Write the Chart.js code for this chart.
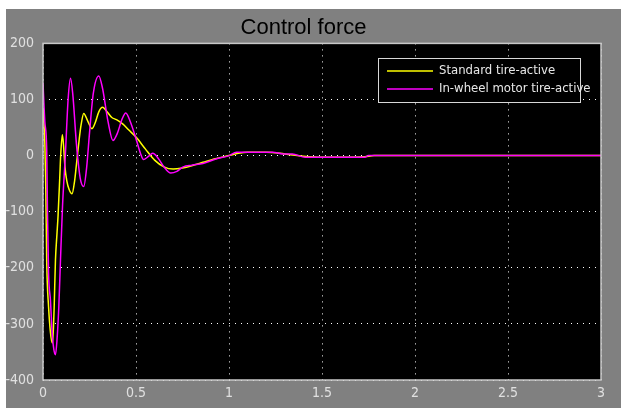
<!DOCTYPE html>
<html>
<head>
<meta charset="utf-8">
<script src="https://cdn.jsdelivr.net/npm/chart.js@4/dist/chart.umd.min.js"></script>
<style>
  html, body { margin: 0; padding: 0; background: #ffffff; }
  #wrap { position: relative; width: 621px; height: 408px; }
</style>
</head>
<body>
<div id="wrap"><canvas id="c" width="621" height="408"></canvas></div>
<script>
// Control force over time (s)
const timeStandard = [0, 0.01, 0.015, 0.02, 0.03, 0.04, 0.05, 0.055, 0.06, 0.067, 0.075, 0.081, 0.09, 0.095, 0.104, 0.11, 0.118, 0.128, 0.14, 0.156, 0.17, 0.18, 0.195, 0.205, 0.219, 0.24, 0.263, 0.28, 0.3, 0.32, 0.34, 0.37, 0.395, 0.43, 0.46, 0.5, 0.55, 0.6, 0.65, 0.7, 0.75, 0.8, 0.86, 0.92, 1.0, 1.05, 1.1, 1.2, 1.3, 1.4, 1.5, 1.6, 1.73, 1.78, 2.0, 2.5, 3.0];
const standardTire = [85, 20, -60, -190, -270, -315, -334, -315, -270, -186, -140, -107, -40, 0, 37, 20, -20, -45, -60, -68, -45, -15, 30, 55, 75, 62, 48, 58, 78, 86, 80, 68, 64, 56, 46, 33, 12, -8, -20, -24, -22, -18, -12, -6, 0, 4, 6, 6, 3, -1, -3, -3, -2, 0, 0, 0, 0];

const timeInWheel = [0, 0.01, 0.02, 0.024, 0.03, 0.04, 0.05, 0.058, 0.067, 0.075, 0.085, 0.094, 0.105, 0.12, 0.135, 0.148, 0.16, 0.18, 0.2, 0.219, 0.235, 0.25, 0.27, 0.3, 0.32, 0.35, 0.376, 0.4, 0.425, 0.445, 0.47, 0.5, 0.525, 0.54, 0.565, 0.59, 0.62, 0.65, 0.687, 0.72, 0.754, 0.8, 0.86, 0.93, 1.0, 1.04, 1.1, 1.235, 1.29, 1.34, 1.41, 1.5, 1.6, 1.73, 1.75, 2.0, 2.5, 3.0];
const inWheelTire = [130, 60, 10, -100, -210, -258, -320, -345, -355, -330, -270, -186, -90, 0, 100, 138, 110, 20, -40, -55, -20, 40, 110, 142, 120, 60, 27, 40, 65, 76, 60, 30, 3, -7, -2, 4, -5, -20, -31, -28, -20, -17, -14, -6, 0, 6, 6, 6, 3, 3, -3, -3, -3, -3, 0, 0, 0, 0];

const seriesNames = ['Standard tire-active', 'In-wheel motor tire-active'];
const seriesColors = ['#ffff00', '#ff00ff'];
const chartTitle = 'Control force';

const xTicks = { min: 0, max: 3, step: 0.5 };
const yTicks = { min: -400, max: 200, step: 100 };

const narrowFont = "'Liberation Sans Narrow', 'Arial Narrow', 'DejaVu Sans Condensed', sans-serif";

const toPoints = (xs, ys) => xs.map((x, i) => ({ x: x, y: ys[i] }));
const plainNumber = (v) => String(Math.round(v * 1000) / 1000);

// Gray scope panel, black plot area and light frame
const scopeBackground = {
  id: 'scopeBackground',
  beforeDraw(chart) {
    const { ctx, chartArea: a } = chart;
    ctx.save();
    ctx.fillStyle = '#ffffff';
    ctx.fillRect(0, 0, chart.width, chart.height);
    ctx.fillStyle = '#808080';
    ctx.fillRect(6, 9, chart.width - 6, chart.height - 9);
    ctx.fillStyle = '#000000';
    ctx.fillRect(a.left, a.top, a.right - a.left, a.bottom - a.top);
    ctx.restore();
  },
  afterDraw(chart) {
    const { ctx, chartArea: a } = chart;
    ctx.save();
    ctx.strokeStyle = '#c8c8c8';
    ctx.lineWidth = 1.5;
    ctx.strokeRect(a.left, a.top, a.right - a.left, a.bottom - a.top);
    ctx.restore();
  }
};

// Boxed legend inside the upper-right of the plot
const scopeLegend = {
  id: 'scopeLegend',
  afterDraw(chart) {
    const { ctx } = chart;
    const x0 = 378, y0 = 58, w = 202, h = 44;
    ctx.save();
    ctx.fillStyle = '#000000';
    ctx.fillRect(x0, y0, w, h);
    ctx.strokeStyle = '#d8d8d8';
    ctx.lineWidth = 1;
    ctx.strokeRect(x0 + 0.5, y0 + 0.5, w, h);
    ctx.font = '13px ' + narrowFont;
    ctx.textBaseline = 'middle';
    chart.data.datasets.forEach((ds, i) => {
      const y = y0 + 13 + i * 18;
      ctx.strokeStyle = ds.borderColor;
      ctx.lineWidth = 1.5;
      ctx.beginPath();
      ctx.moveTo(x0 + 9, y);
      ctx.lineTo(x0 + 55, y);
      ctx.stroke();
      ctx.fillStyle = '#e8e8e8';
      ctx.fillText(ds.label, x0 + 61, y);
    });
    ctx.restore();
  }
};

new Chart(document.getElementById('c'), {
  type: 'line',
  data: {
    datasets: [
      { label: seriesNames[0], data: toPoints(timeStandard, standardTire), borderColor: seriesColors[0], order: 2 },
      { label: seriesNames[1], data: toPoints(timeInWheel, inWheelTire), borderColor: seriesColors[1], order: 1 }
    ]
  },
  options: {
    responsive: false,
    animation: false,
    layout: { padding: { left: 6, top: 9, right: 20, bottom: 0 } },
    elements: {
      point: { radius: 0 },
      line: { borderWidth: 1.5, cubicInterpolationMode: 'monotone' }
    },
    plugins: {
      legend: { display: false },
      tooltip: { enabled: false },
      title: {
        display: true,
        text: chartTitle,
        color: '#000000',
        font: { family: "'Liberation Sans', Arial, sans-serif", size: 22, weight: 'normal' },
        padding: { top: 6, bottom: 2 }
      }
    },
    scales: {
      x: {
        type: 'linear',
        min: xTicks.min, max: xTicks.max,
        afterFit(s) { s.height = 28; },
        ticks: { stepSize: xTicks.step, color: '#e0e0e0', padding: 5, maxRotation: 0,
                 callback: plainNumber,
                 font: { family: narrowFont, size: 14 } },
        grid: { color: '#ffffff', lineWidth: 1, drawTicks: false },
        border: { display: false, dash: [1, 5] }
      },
      y: {
        min: yTicks.min, max: yTicks.max,
        afterFit(s) { s.width = 37; },
        ticks: { stepSize: yTicks.step, color: '#e0e0e0', padding: 9,
                 callback: plainNumber,
                 font: { family: narrowFont, size: 14 } },
        grid: { color: '#ffffff', lineWidth: 1, drawTicks: false },
        border: { display: false, dash: [1, 5] }
      }
    }
  },
  plugins: [scopeBackground, scopeLegend]
});
</script>
</body>
</html>
